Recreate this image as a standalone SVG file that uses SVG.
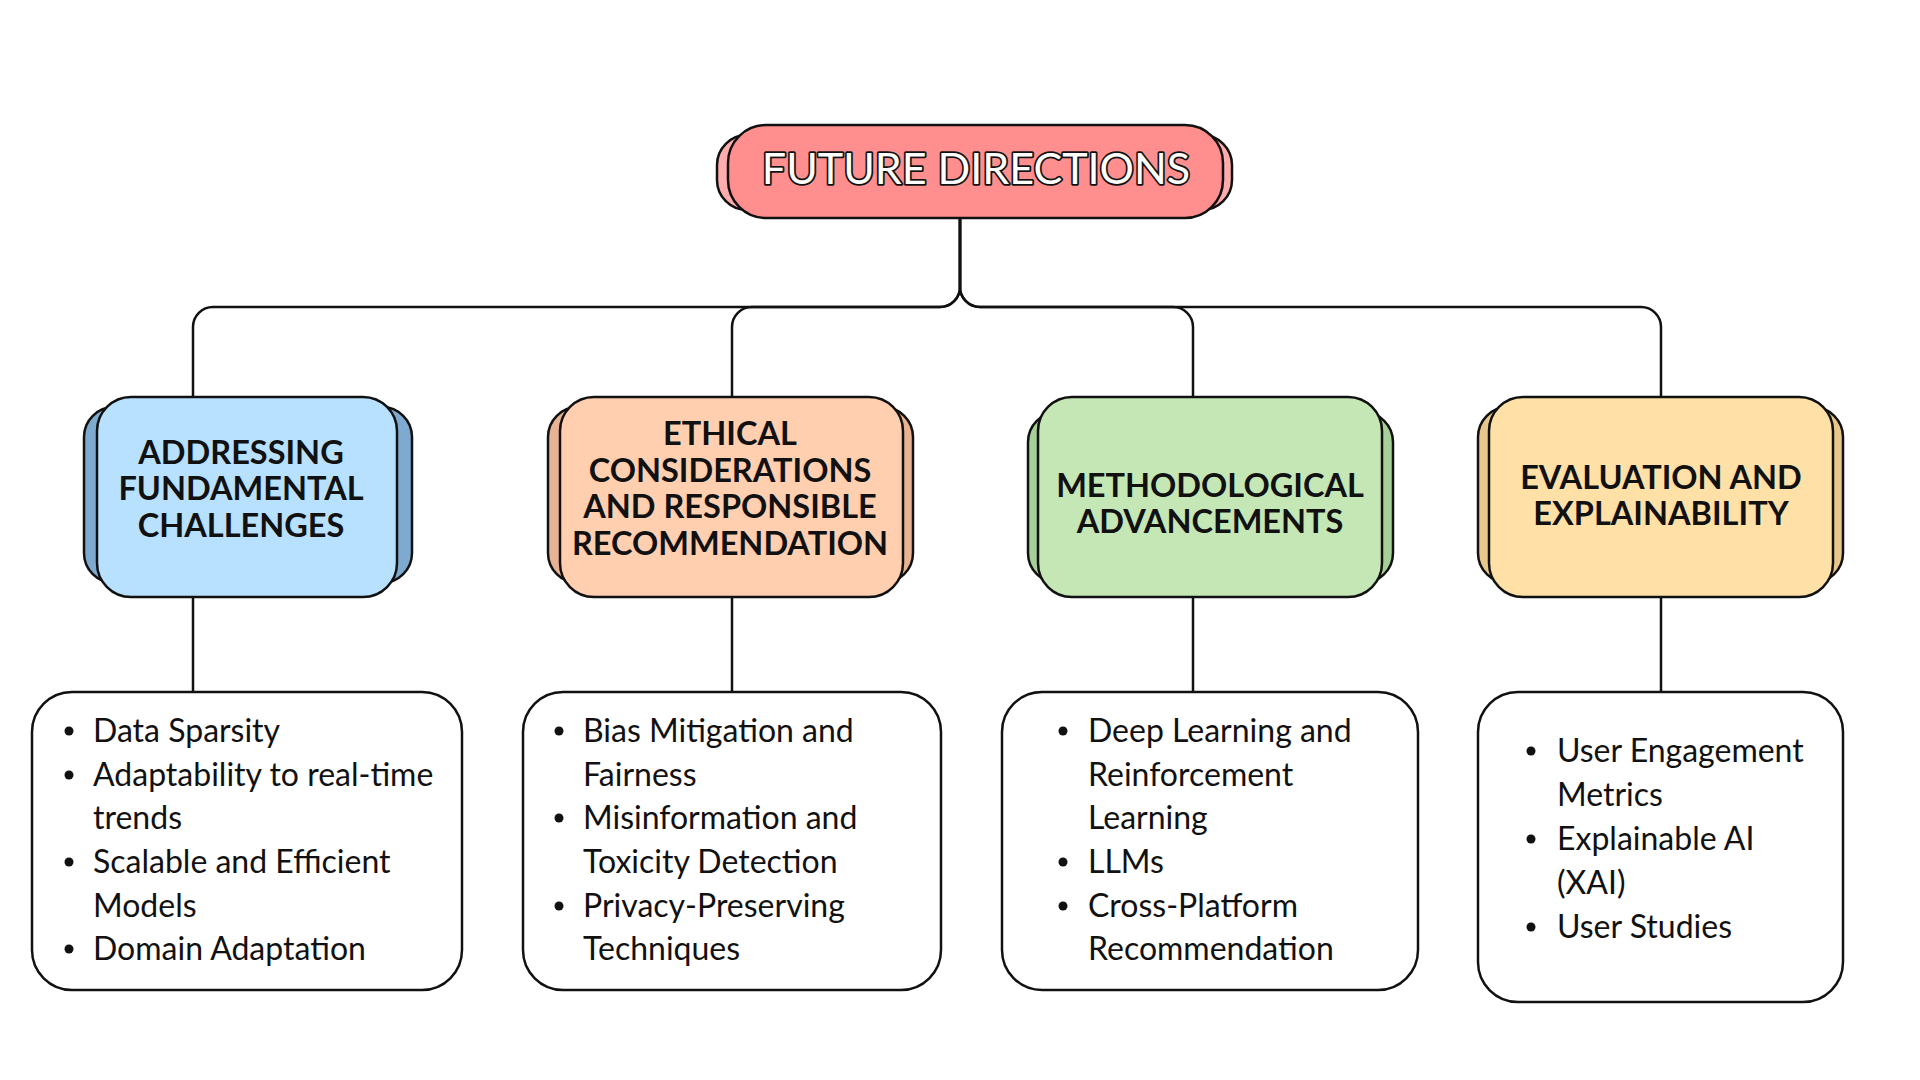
<svg xmlns="http://www.w3.org/2000/svg" width="1920" height="1080" viewBox="0 0 1920 1080">
<style>
.bx{stroke:#111;stroke-width:2.5}
.ln{fill:none;stroke:#111;stroke-width:2.5}
.ttl{font-family:Lato,"Liberation Sans",sans-serif;font-weight:700;font-size:32.5px;fill:#111;text-anchor:middle}
.lst{font-family:Lato,"Liberation Sans",sans-serif;font-size:32px;fill:#111}
.main{font-family:Lato,"Liberation Sans",sans-serif;font-size:43px;fill:#fff;stroke:#111;stroke-width:3.5;paint-order:stroke;stroke-linejoin:round;text-anchor:middle}
.dot{fill:#111}
</style>
<rect width="1920" height="1080" fill="#fff"/>
<g id="connectors">
<path class="ln" d="M960 218 V287 A20 20 0 0 1 940 307 H213 A20 20 0 0 0 193 327 V397"/>
<path class="ln" d="M960 218 V287 A20 20 0 0 1 940 307 H752 A20 20 0 0 0 732 327 V397"/>
<path class="ln" d="M960 218 V287 A20 20 0 0 0 980 307 H1173 A20 20 0 0 1 1193 327 V397"/>
<path class="ln" d="M960 218 V287 A20 20 0 0 0 980 307 H1641 A20 20 0 0 1 1661 327 V397"/>
<path class="ln" d="M193 597 V692 M732 597 V692 M1193 597 V692 M1661 597 V692"/>
</g>
<g id="future-directions">
<rect class="bx" x="717" y="135" width="515" height="75" rx="30" fill="#FFACAC"/>
<rect class="bx" x="728" y="125" width="495" height="93" rx="38" fill="#FF8F8F"/>
<text class="main" x="976" y="184">FUTURE DIRECTIONS</text>
</g>
<g id="addressing">
<rect class="bx" x="84" y="407" width="328" height="176" rx="30" fill="#7FAAD0"/>
<rect class="bx" x="97" y="397" width="300" height="200" rx="34" fill="#B8E0FF"/>
<text class="ttl"><tspan x="241" y="464">ADDRESSING</tspan><tspan x="241" y="500">FUNDAMENTAL</tspan><tspan x="241" y="537">CHALLENGES</tspan></text>
</g>
<g id="ethical">
<rect class="bx" x="548" y="407" width="365" height="176" rx="30" fill="#E8B393"/>
<rect class="bx" x="560" y="397" width="343" height="200" rx="34" fill="#FFCFB0"/>
<text class="ttl"><tspan x="730" y="445">ETHICAL</tspan><tspan x="730" y="482">CONSIDERATIONS</tspan><tspan x="730" y="518">AND RESPONSIBLE</tspan><tspan x="730" y="555">RECOMMENDATION</tspan></text>
</g>
<g id="methodological">
<rect class="bx" x="1028" y="412" width="365" height="171" rx="30" fill="#A7CF98"/>
<rect class="bx" x="1038" y="397" width="344" height="200" rx="34" fill="#C5E6B5"/>
<text class="ttl"><tspan x="1210" y="497">METHODOLOGICAL</tspan><tspan x="1210" y="533">ADVANCEMENTS</tspan></text>
</g>
<g id="evaluation">
<rect class="bx" x="1478" y="407" width="365" height="176" rx="30" fill="#E8C78C"/>
<rect class="bx" x="1489" y="397" width="344" height="200" rx="34" fill="#FFE0A6"/>
<text class="ttl"><tspan x="1661" y="489">EVALUATION AND</tspan><tspan x="1661" y="525">EXPLAINABILITY</tspan></text>
</g>
<g id="list-fundamental">
<rect class="bx" x="32" y="692" width="430" height="298" rx="40" fill="#fff"/>
<circle class="dot" cx="69" cy="731" r="4.5"/><circle class="dot" cx="69" cy="775" r="4.5"/><circle class="dot" cx="69" cy="862" r="4.5"/><circle class="dot" cx="69" cy="949" r="4.5"/>
<text class="lst"><tspan x="93" y="742">Data Sparsity</tspan><tspan x="93" y="786">Adaptability to real-time</tspan><tspan x="93" y="829">trends</tspan><tspan x="93" y="873">Scalable and Efficient</tspan><tspan x="93" y="917">Models</tspan><tspan x="93" y="960">Domain Adaptation</tspan></text>
</g>
<g id="list-ethical">
<rect class="bx" x="523" y="692" width="418" height="298" rx="40" fill="#fff"/>
<circle class="dot" cx="559" cy="731" r="4.5"/><circle class="dot" cx="559" cy="818" r="4.5"/><circle class="dot" cx="559" cy="906" r="4.5"/>
<text class="lst"><tspan x="583" y="742">Bias Mitigation and</tspan><tspan x="583" y="786">Fairness</tspan><tspan x="583" y="829">Misinformation and</tspan><tspan x="583" y="873">Toxicity Detection</tspan><tspan x="583" y="917">Privacy-Preserving</tspan><tspan x="583" y="960">Techniques</tspan></text>
</g>
<g id="list-methodological">
<rect class="bx" x="1002" y="692" width="416" height="298" rx="40" fill="#fff"/>
<circle class="dot" cx="1063" cy="731" r="4.5"/><circle class="dot" cx="1063" cy="862" r="4.5"/><circle class="dot" cx="1063" cy="906" r="4.5"/>
<text class="lst"><tspan x="1088" y="742">Deep Learning and</tspan><tspan x="1088" y="786">Reinforcement</tspan><tspan x="1088" y="829">Learning</tspan><tspan x="1088" y="873">LLMs</tspan><tspan x="1088" y="917">Cross-Platform</tspan><tspan x="1088" y="960">Recommendation</tspan></text>
</g>
<g id="list-evaluation">
<rect class="bx" x="1478" y="692" width="365" height="310" rx="40" fill="#fff"/>
<circle class="dot" cx="1531" cy="751" r="4.5"/><circle class="dot" cx="1531" cy="839" r="4.5"/><circle class="dot" cx="1531" cy="927" r="4.5"/>
<text class="lst"><tspan x="1557" y="762">User Engagement</tspan><tspan x="1557" y="806">Metrics</tspan><tspan x="1557" y="850">Explainable AI</tspan><tspan x="1557" y="894">(XAI)</tspan><tspan x="1557" y="938">User Studies</tspan></text>
</g>
</svg>
